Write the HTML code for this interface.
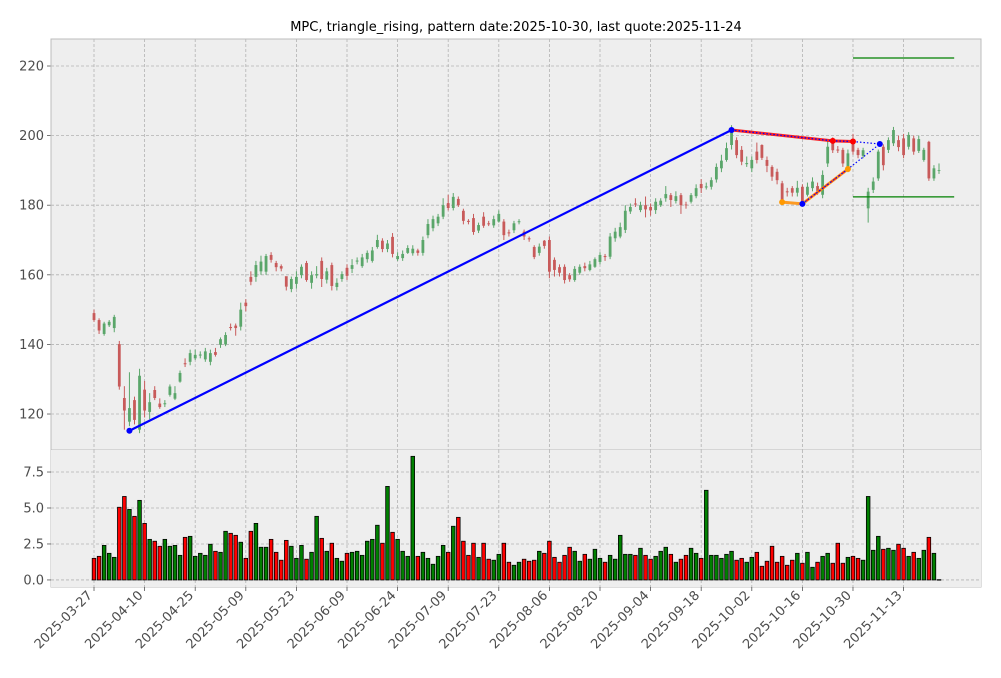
<!DOCTYPE html>
<html><head><meta charset="utf-8"><style>
html,body{margin:0;padding:0;background:#fff;}
svg{display:block;font-family:"DejaVu Sans","Liberation Sans",sans-serif;}
</style></head><body>
<svg id="chart" width="1001" height="678" viewBox="0 0 1001 678">
<text x="516" y="31" text-anchor="middle" font-size="13" fill="#000">MPC, triangle_rising, pattern date:2025-10-30, last quote:2025-11-24</text>
<g id="main"></g>
<g id="vol"></g>
</svg>
<script>
const opens=[149,147,143,145.5,144.7,140.1,124.6,117.8,124,115.5,
127,120.6,126.9,123,122.8,125.5,124.4,129.3,134.6,135,
136,136.8,135.7,135,137.8,139.9,140,145,145.4,145.1,
152,159.4,159.4,161,160.9,165.7,163.4,162.5,159.6,155.9,
157.4,159.9,163.4,157.7,159.8,164,158.6,162.8,156.5,158.8,
162,161.7,163.8,162.5,164.5,164,168,169.8,167.4,170.9,
164.5,164.8,166.3,166.2,167,166.3,171.4,173.4,174.8,176.7,
180.6,179.2,181.8,178.4,175.5,176.3,172.7,176.7,174.8,174.2,
175.3,175.3,172.2,172.8,175.1,172.4,170.5,168,166.3,169.8,
170,164.3,162.2,162.3,159.9,158.5,160.6,162.5,161.4,162.3,
163.7,165.4,165.2,170.5,171,172.9,178.2,180.5,178.6,180,
179.5,178.6,180,182,182.9,181.2,182.9,180.2,181,182.6,
186.1,185.1,185.3,187.4,190.6,193,197.3,198.7,195.9,191.8,
190.6,195.4,197.3,193,191,189.6,186.3,184,184.9,183.6,
185.3,183,184.9,185.5,183,192,198.2,196,195.9,190.1,
197.8,195.9,194.2,179.1,184.4,187.7,196.8,195.9,197.8,198.7,
199.2,196.8,199.2,195.6,193,198.2,187.7,189.9];
const closes=[147,144,146,146.5,147.9,127.9,121,121.7,118.3,131,
121,123.4,124.6,122,123.1,127.9,126,131.8,134.3,137.5,
137,137.1,138,137.5,137,141.5,142.7,144.7,144.7,150,
151,158,162.8,163.8,165.4,164.3,162.2,161.8,156.6,158.8,
159.4,162.3,158.5,159.9,160.2,158.8,161,156.8,157.7,160.2,
159.7,162.8,164.1,165,166.3,167,170,167.4,169,166,
165.4,166,167.7,167.5,166.3,170,174.6,176,176.7,180,
179.2,182.4,180,175.5,175.2,172.3,174.3,174.1,174.5,176,
177.5,171.4,171.9,174.8,175.4,171,170.2,165.1,168.1,168.3,
160.9,161.4,160.6,158.5,158.7,161.7,162.3,161.9,163,164.5,
165.7,165.1,171,172.4,173.7,178.4,179.5,180.2,180,178.8,
178.5,181,181.3,183.2,181.5,182.6,180,180,182.9,184.9,
184.9,185.4,187.2,191,192.8,196.4,201.6,194.4,192.5,192.1,
193,193,193.6,191.3,188.2,187.2,181.5,183.7,183.6,185,
180.5,185.3,186.8,184,188.7,196.8,195.8,195.7,192,194.9,
195.4,194.4,195.8,183.9,186.8,195.4,191.5,198.7,201.6,196.7,
194.4,200.2,195.4,199,195.9,187.7,190.6,190.1];
const highs=[150,147.5,146.5,147,148.5,141,128,132,125,133,
129.5,126,128,124.5,124,128.5,128,132.5,136,138.5,
138.5,138,139,138.5,139,142,143.5,146,146,152,
153,161,164,165.5,166,166.5,164,163,159,159.5,
161,163,164,161,162.5,165,162,163.5,159,161,
163,164.5,165,166,167,168,171.5,170.5,170,172,
166.5,167,168.5,168.5,167.5,171,176,177,177.5,182,
183,183.5,182.5,179,176,177.5,175,178,175.5,177,
178.5,176,173,175.5,176,173,171,168.5,169,170,
171,165,163,163,160.5,162.5,163,163.5,164,165,
166.5,166,172,173.5,175,180,180.5,182,181,182.5,
180.5,182,182,185.5,183.5,184,183.5,181,183.5,186,
187.5,186.5,188,192,194.5,198,203,199.5,197,194,
194,198,197.5,194,191.5,190.5,187,185,185.5,187,
186,186.5,188,186.5,190,198.5,199.5,197,196.5,196,
200.5,196.5,196.5,185,188,196,197.5,199.5,202.5,200,
200.5,201,200,200,196.5,198.5,191.5,192];
const lows=[146.5,143,142.5,145,143.5,127,115.5,116.5,117,114.5,
119,118.5,124,121.5,122,125,124,129,133.5,134,
135.5,136,135,134,136.5,139,139.5,144,142.5,144,
149.5,157,158,160,160,163.5,161,161,155.5,155,
156,159,158,156,159,156.5,157.5,155.5,155.5,158,
158.5,160.5,163,162,163.5,163.5,167.5,166.5,166.5,165,
164,164,166,165.5,165.5,165.5,170.5,172.5,174,176,
178.5,178.5,179.5,174.5,174.5,171.5,172,173.5,174,173.5,
175,170,171,172,174.5,170,169.5,164.5,165.5,167.5,
159,159.5,159.5,157.5,158,158,160,161,161,162,
163,164,164.5,169.5,170.5,172,177.5,179.5,178,176.5,
177,177.5,179.5,181,179.5,180.5,177.5,179,180.5,182,
183.5,184.5,184.5,186.5,189.5,192.5,196,193.5,191.5,191,
189.5,192,193,189.5,187,186,180.5,182.5,182.5,182.5,
180,182.5,184,183,182,191,195,195,191,189.5,
194.5,193.5,193.5,175,183.5,187,190,195,197,195.5,
193.5,196,194.5,195,192.5,187,187,189];
const volumes=[1.5,1.64,2.4,1.85,1.57,5.05,5.8,4.9,4.42,5.53,
3.93,2.82,2.69,2.34,2.82,2.34,2.4,1.71,2.96,3.03,
1.64,1.85,1.71,2.48,1.99,1.92,3.38,3.24,3.1,2.62,
1.5,3.38,3.93,2.27,2.27,2.82,1.92,1.37,2.75,2.34,
1.5,2.4,1.44,1.92,4.42,2.89,1.99,2.55,1.5,1.3,
1.85,1.92,1.99,1.71,2.69,2.82,3.8,2.55,6.5,3.31,
2.82,1.99,1.64,8.59,1.64,1.92,1.5,1.09,1.64,2.4,
1.92,3.73,4.35,2.69,1.71,2.55,1.57,2.55,1.44,1.37,
1.78,2.55,1.23,1.02,1.23,1.44,1.3,1.37,1.99,1.85,
2.69,1.57,1.23,1.71,2.27,1.99,1.3,1.78,1.44,2.13,
1.5,1.23,1.71,1.44,3.1,1.78,1.78,1.71,2.2,1.71,
1.44,1.64,1.99,2.27,1.78,1.23,1.44,1.71,2.2,1.85,
1.5,6.23,1.71,1.71,1.5,1.78,1.99,1.37,1.5,1.23,
1.57,1.92,0.95,1.3,2.34,1.23,1.64,1.02,1.37,1.85,
1.16,1.92,0.88,1.23,1.64,1.85,1.16,2.55,1.16,1.57,
1.64,1.5,1.37,5.8,2.06,3.03,2.13,2.2,2.06,2.48,
2.2,1.64,1.92,1.5,2.06,2.96,1.85,0.02];
const tickIdx=[0,10,20,30,40,50,60,70,80,90,100,110,120,130,140,150,160];
const tickLabels=["2025-03-27","2025-04-10","2025-04-25","2025-05-09","2025-05-23","2025-06-09","2025-06-24","2025-07-09","2025-07-23","2025-08-06","2025-08-20","2025-09-04","2025-09-18","2025-10-02","2025-10-16","2025-10-30","2025-11-13"];
const priceTicks=[120,140,160,180,200,220];
const volTicks=[0,2.5,5,7.5];
const volTickLabels=["0.0","2.5","5.0","7.5"];
const trendIdx=[7,126];const trendPx=[115.2,201.6];
const upperIdx=[126,146,150];const upperPx=[201.6,198.5,198.3];
const lowerIdx=[136,140,149];const lowerPx=[180.9,180.4,190.4];
const projIdx=[150,155.3,149];const projPx=[198.3,197.6,190.4];
const levelIdx=[150,170];const levelPx=[222.3,182.4];

const NS='http://www.w3.org/2000/svg';
const L=51,R=981,MT=39,MB=450,VT=450,VB=587;
const X0=-8.5,X1=175.3;
const PMIN=109.66,PMAX=227.76,VMIN=-0.49,VMAX=9.03;
const x=i=>L+(i-X0)/(X1-X0)*(R-L);
const yp=p=>MB-(p-PMIN)/(PMAX-PMIN)*(MB-MT);
const yv=v=>VB-(v-VMIN)/(VMAX-VMIN)*(VB-VT);
function mk(tag,attrs,parent){const e=document.createElementNS(NS,tag);for(const k in attrs)e.setAttribute(k,attrs[k]);parent.appendChild(e);return e;}
const gm=document.getElementById('main'),gv=document.getElementById('vol');

function panel(g,top,bot,name){
  const r=mk('rect',{x:L,y:top,width:R-L,height:bot-top,fill:'#eeeeee'},g);
  
  
  tickIdx.forEach(i=>{const ln=mk('line',{x1:x(i),x2:x(i),y1:top,y2:bot,stroke:'#b2b2b2','stroke-width':0.8,'stroke-dasharray':'3,2'},g);
    
    });
}
panel(gm,MT,MB,'price');panel(gv,VT,VB,'volume');
priceTicks.forEach(p=>{
  const ln=mk('line',{x1:L,x2:R,y1:yp(p),y2:yp(p),stroke:'#b2b2b2','stroke-width':0.8,'stroke-dasharray':'3,2'},gm);
  
  
  mk('line',{x1:L-4,x2:L,y1:yp(p),y2:yp(p),stroke:'#555','stroke-width':0.8},gm);
  const t=mk('text',{x:L-7,y:yp(p)+4.5,'text-anchor':'end','font-size':13,fill:'#4d4d4d'},gm);t.textContent=p;
  
  
});
volTicks.forEach((v,k)=>{
  const ln=mk('line',{x1:L,x2:R,y1:yv(v),y2:yv(v),stroke:'#b2b2b2','stroke-width':0.8,'stroke-dasharray':'3,2'},gv);
  
  
  mk('line',{x1:L-4,x2:L,y1:yv(v),y2:yv(v),stroke:'#555','stroke-width':0.8},gv);
  const t=mk('text',{x:L-7,y:yv(v)+4.5,'text-anchor':'end','font-size':13,fill:'#4d4d4d'},gv);t.textContent=volTickLabels[k];
  
  
});
opens.forEach((o,i)=>{
  const c=closes[i],up=c>=o,col=up?'#5aa66a':'#c85a5a';
  const g=mk('g',{},gm);
  
  
  mk('line',{x1:x(i),x2:x(i),y1:yp(highs[i]),y2:yp(lows[i]),stroke:col,'stroke-width':1},g);
  const t=yp(Math.max(o,c)),b=yp(Math.min(o,c));
  mk('rect',{x:x(i)-1.4,y:t,width:2.8,height:Math.max(b-t,0.8),fill:col},g);
});
volumes.forEach((v,i)=>{
  const up=closes[i]>=opens[i];
  const r=mk('rect',{x:x(i)-1.8,y:yv(v),width:3.6,height:Math.max(yv(0)-yv(v),0.5),fill:up?'#008000':'#ff0000',stroke:'#000','stroke-width':0.8},gv);
  
  
});
function poly(idx,px,attrs,name){
  const pts=idx.map((i,k)=>x(i)+','+yp(px[k])).join(' ');
  const p=mk('polyline',Object.assign({points:pts,fill:'none'},attrs),gm);
  
  
}
poly(trendIdx,trendPx,{stroke:'#0000ff','stroke-width':2.2},'trend-line');
poly(upperIdx,upperPx,{stroke:'#ff0000','stroke-width':3,'stroke-opacity':0.85},'upper-resistance-line');
poly(upperIdx,upperPx,{stroke:'#0000ff','stroke-width':1.3,'stroke-dasharray':'1.5,2'},'upper-dotted-line');
poly(lowerIdx,lowerPx,{stroke:'#ff8c00','stroke-width':3,'stroke-opacity':0.85},'lower-support-line');
poly(lowerIdx.slice(1),lowerPx.slice(1),{stroke:'#ff2000','stroke-width':1.5,'stroke-dasharray':'3,2'},'lower-red-dash');
poly(lowerIdx.slice(1),lowerPx.slice(1),{stroke:'#0000ff','stroke-width':1.2,'stroke-dasharray':'1.5,2'},'lower-dotted-line');
poly(projIdx,projPx,{stroke:'#0000ff','stroke-width':1.2,'stroke-dasharray':'1.5,2'},'projection-dotted-line');
levelPx.forEach(p=>{
  const ln=mk('line',{x1:x(levelIdx[0]),x2:x(levelIdx[1]),y1:yp(p),y2:yp(p),stroke:'#008000','stroke-width':1.3},gm);
  
  
});
function dot(i,p,col,name){
  const c=mk('circle',{cx:x(i),cy:yp(p),r:3,fill:col},gm);
  
  
}
dot(trendIdx[0],trendPx[0],'#0000ff','pivot-point');
dot(trendIdx[1],trendPx[1],'#0000ff','pivot-point');
dot(upperIdx[1],upperPx[1],'#ff0000','upper-point');
dot(upperIdx[2],upperPx[2],'#ff0000','upper-point');
dot(lowerIdx[0],lowerPx[0],'#ff9900','lower-point');
dot(lowerIdx[2],lowerPx[2],'#ff9900','lower-point');
dot(lowerIdx[1],lowerPx[1],'#0000ff','pivot-point');
dot(projIdx[1],projPx[1],'#0000ff','pivot-point');
[[MT,MB],[VT,VB]].forEach(([t,b])=>{mk('rect',{x:L,y:t,width:R-L,height:b-t,fill:'none',stroke:'#bcbcbc','stroke-width':1},gm);});
tickIdx.forEach((i,k)=>{
  mk('line',{x1:x(i),x2:x(i),y1:VB,y2:VB+4,stroke:'#555','stroke-width':0.8},gv);
  mk('line',{x1:x(i),x2:x(i),y1:MB,y2:MB+3,stroke:'#555','stroke-width':0.8},gm);
  const tx=x(i)-1,ty=VB+9;
  const t=mk('text',{x:tx,y:ty,'text-anchor':'end','font-size':13,fill:'#4d4d4d',transform:`rotate(-45 ${tx} ${ty})`},gv);
  t.textContent=tickLabels[k];
  
  
});
</script>
</body></html>
